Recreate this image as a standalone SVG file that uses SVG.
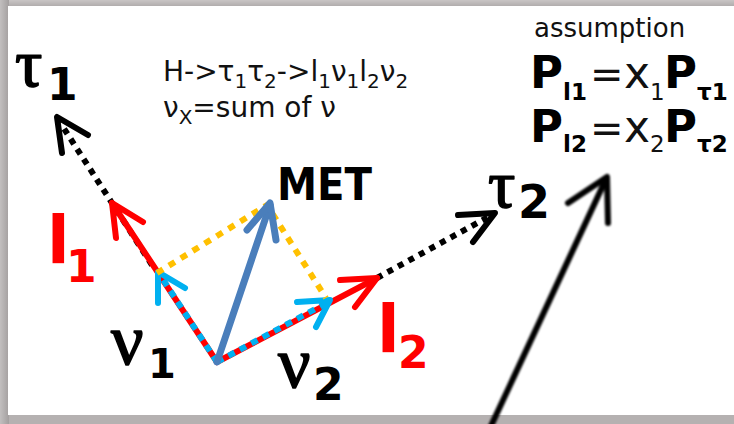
<svg xmlns="http://www.w3.org/2000/svg" width="734" height="424" viewBox="0 0 734 424">
<defs>
<linearGradient id="topg" x1="0" y1="0" x2="0" y2="1">
<stop offset="0" stop-color="#c9c5c5"/>
<stop offset="1" stop-color="#a9a5a5"/>
</linearGradient>
<linearGradient id="leftg" x1="0" y1="0" x2="1" y2="0">
<stop offset="0" stop-color="#c2bfbf"/>
<stop offset="1" stop-color="#a39f9f"/>
</linearGradient>
<filter id="soft" x="-10%" y="-10%" width="120%" height="120%">
<feGaussianBlur stdDeviation="0.9"/>
</filter>
<style>
.ln{fill:none;stroke-linecap:round;stroke-linejoin:round}
.red{stroke:#ff0000;stroke-width:6}
.blue{stroke:#00b0f0;stroke-width:6}
.met{stroke:#4a7ebb;stroke-width:7}
.blk{stroke:#000;stroke-width:6}
.dot{stroke:#000;stroke-width:6;stroke-dasharray:6 6;stroke-linecap:butt}
.yel{stroke:#ffc000;stroke-width:6;stroke-dasharray:7 7;fill:none;stroke-linecap:butt}
.bluedash{stroke:#00b0f0;stroke-width:6;stroke-dasharray:7 6;fill:none;stroke-linecap:butt}
.t{font-family:"DejaVu Sans",Verdana,sans-serif;fill:#111;font-weight:normal}
.b{font-family:"DejaVu Sans",Verdana,sans-serif;font-weight:bold;fill:#000}
.g{font-family:"Liberation Serif","Times New Roman",serif;fill:#000;stroke:#000;stroke-width:1.6;stroke-linejoin:round}
</style>
</defs>
<rect x="0" y="0" width="734" height="424" fill="#b5b1b1"/>
<rect x="0" y="0" width="734" height="8" fill="url(#topg)"/>
<rect x="0" y="0" width="9" height="424" fill="url(#leftg)"/>
<rect x="8" y="6" width="726" height="409" fill="#ffffff"/>

<g id="connectors">
<line class="dot" x1="152" y1="265" x2="61" y2="124"/>
<polyline class="ln blk" points="88,135 57,117 62,153"/>
<line class="dot" x1="377" y1="278" x2="490" y2="216"/>
<polyline class="ln blk" points="458,215 495,213 473,242"/>
<line class="ln red" x1="217" y1="362" x2="112" y2="203"/>
<polyline class="ln red" points="143,222 112,203 116,238"/>
<line class="ln red" x1="217" y1="362" x2="377" y2="278"/>
<polyline class="ln red" points="340,280 377,278 355,307"/>
<line class="bluedash" x1="217" y1="362" x2="158" y2="272"/>
<polyline class="ln blue" points="185,288 158,272 158,303"/>
<line class="bluedash" x1="217" y1="362" x2="330" y2="301"/>
<polyline class="ln blue" points="297,302 330,300 316,327"/>
<polyline class="yel" points="157,273 267,205 326,298"/>
<line class="ln met" x1="217" y1="362" x2="270" y2="205"/>
<polyline class="ln met" points="247,230 270,203 276,240"/>
<g filter="url(#soft)">
<line class="ln blk" x1="491" y1="426" x2="606" y2="179"/>
<polyline class="ln blk" points="568,203 607,177 608,223"/>
</g>
</g>

<g id="tau1"><text class="g" x="15" y="86" font-size="68">τ</text><text class="b" x="47" y="100" font-size="44">1</text></g>
<g id="tau2"><text class="g" x="488" y="207" font-size="68">τ</text><text class="b" x="518" y="218" font-size="46">2</text></g>
<g id="l1"><text class="b" x="47" y="263" font-size="66" style="fill:#ff0000">l</text><text class="b" x="66" y="282" font-size="44" style="fill:#ff0000">1</text></g>
<g id="l2"><text class="b" x="377" y="352" font-size="66" style="fill:#ff0000">l</text><text class="b" x="398" y="368" font-size="44" style="fill:#ff0000">2</text></g>
<g id="nu1"><text class="g" x="111" y="364" font-size="72">ν</text><text class="b" x="148" y="378" font-size="40">1</text></g>
<g id="nu2"><text class="g" x="278" y="387" font-size="72">ν</text><text class="b" x="313" y="400" font-size="44">2</text></g>
<g id="met"><text class="b" x="277" y="200" font-size="44" textLength="95" lengthAdjust="spacingAndGlyphs">MET</text></g>

<g id="formula">
<text class="t" x="163" y="81" font-size="28">H-&gt;τ<tspan font-size="20" dy="7">1</tspan><tspan dy="-7">τ</tspan><tspan font-size="20" dy="7">2</tspan><tspan dy="-7">-&gt;l</tspan><tspan font-size="20" dy="7">1</tspan><tspan dy="-7">ν</tspan><tspan font-size="20" dy="7">1</tspan><tspan dy="-7">l</tspan><tspan font-size="20" dy="7">2</tspan><tspan dy="-7">ν</tspan><tspan font-size="20" dy="7">2</tspan></text>
<text class="t" x="163" y="117" font-size="28">ν<tspan font-size="20" dy="7">X</tspan><tspan dy="-7">=sum of ν</tspan></text>
</g>

<g id="assumption">
<text class="t" x="534" y="37" font-size="26">assumption</text>
<text class="b" x="530" y="88" font-size="45">P<tspan x="563" y="100" font-size="23">l1</tspan><tspan class="t" x="590" y="88" font-size="40">=</tspan><tspan class="t" x="624" y="88" font-size="44">x</tspan><tspan class="t" x="650" y="100" font-size="23">1</tspan><tspan x="664" y="88">P</tspan><tspan x="697" y="100" font-size="23">τ1</tspan></text>
<text class="b" x="530" y="142" font-size="45">P<tspan x="563" y="152" font-size="23">l2</tspan><tspan class="t" x="590" y="142" font-size="40">=</tspan><tspan class="t" x="624" y="142" font-size="44">x</tspan><tspan class="t" x="650" y="152" font-size="23">2</tspan><tspan x="664" y="142">P</tspan><tspan x="697" y="152" font-size="23">τ2</tspan></text>
</g>
</svg>
